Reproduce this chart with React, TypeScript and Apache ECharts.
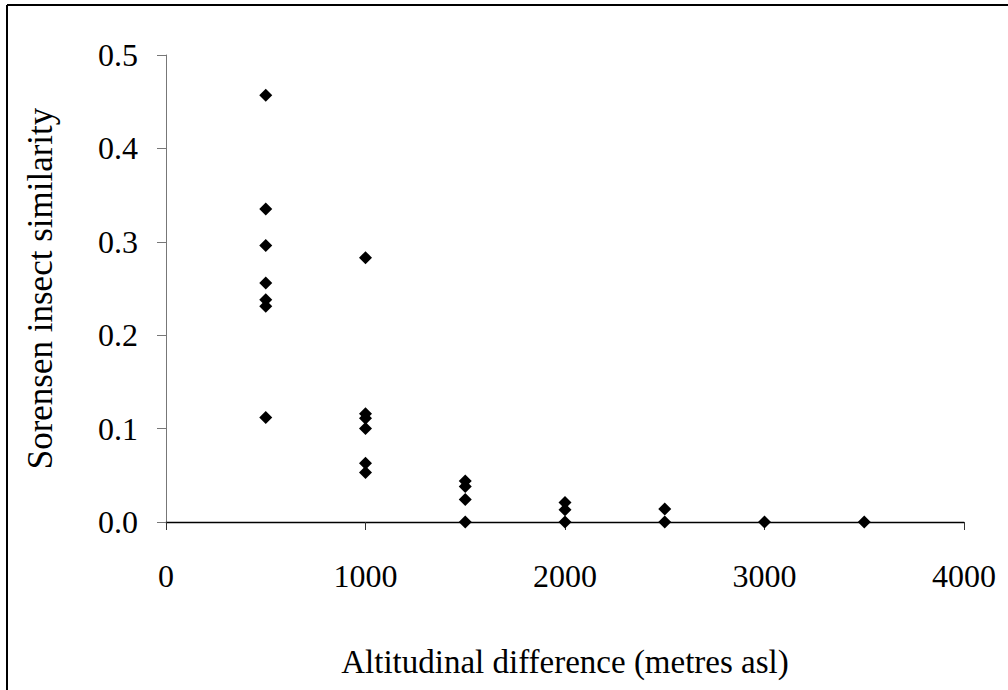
import React, { useEffect, useRef } from "react";
import * as echarts from "echarts";

const xTicks = [0, 1000, 2000, 3000, 4000];
const altitudeDiff = [
  500, 500, 500, 500, 500, 500, 500,
  1000, 1000, 1000, 1000, 1000, 1000,
  1500, 1500, 1500, 1500,
  2000, 2000, 2000,
  2500, 2500,
  3000,
  3500,
];
const similarity = [
  0.457, 0.335, 0.296, 0.256, 0.238, 0.231, 0.112,
  0.283, 0.116, 0.111, 0.1, 0.063, 0.053,
  0.044, 0.038, 0.024, 0.0,
  0.021, 0.013, 0.0,
  0.014, 0.0,
  0.0,
  0.0,
];
const xTitle = "Altitudinal difference (metres asl)";
const yTitle = "Sorensen insect similarity";

const FONT = "'Liberation Serif', 'Times New Roman', serif";

export default function App() {
  const ref = useRef<HTMLDivElement>(null);
  useEffect(() => {
    if (!ref.current) return;
    const chart = echarts.init(ref.current, undefined, { renderer: "svg" });
    const points = altitudeDiff.map((x, i) => [x, similarity[i]]);
    chart.setOption({
      animation: false,
      backgroundColor: "#ffffff",
      textStyle: { fontFamily: FONT },
      grid: { left: 166, right: 44, top: 55, bottom: 168, containLabel: false },
      xAxis: {
        type: "value",
        min: xTicks[0],
        max: xTicks[xTicks.length - 1],
        interval: 1000,
        name: xTitle,
        nameLocation: "middle",
        nameGap: 123,
        nameTextStyle: { fontSize: 33, color: "#000", fontFamily: FONT },
        axisLine: { show: true, onZero: false, lineStyle: { color: "#000", width: 1.3 } },
        axisTick: { show: true, inside: false, length: 8, lineStyle: { color: "#333" } },
        axisLabel: {
          fontSize: 32,
          color: "#000",
          margin: 38,
          fontFamily: FONT,
          formatter: (v: number) => String(v),
        },
        splitLine: { show: false },
      },
      yAxis: {
        type: "value",
        min: 0,
        max: 0.5,
        interval: 0.1,
        name: yTitle,
        nameLocation: "middle",
        nameGap: 108,
        nameTextStyle: { fontSize: 35, color: "#000", fontFamily: FONT },
        axisLine: { show: true, lineStyle: { color: "#777", width: 1 } },
        axisTick: { show: true, inside: false, length: 9, lineStyle: { color: "#777" } },
        axisLabel: {
          fontSize: 32,
          color: "#000",
          margin: 28,
          fontFamily: FONT,
          padding: [6, 0, 0, 0],
          formatter: (v: number) => v.toFixed(1),
        },
        splitLine: { show: false },
      },
      series: [
        {
          type: "scatter",
          data: points,
          symbol: "diamond",
          symbolSize: [13, 13],
          itemStyle: { color: "#000", opacity: 1 },
          z: 5,
        },
      ],
      graphic: [
        {
          type: "line",
          shape: { x1: 7, y1: 5, x2: 1008, y2: 5 },
          style: { stroke: "#000", lineWidth: 2 },
        },
        {
          type: "line",
          shape: { x1: 7, y1: 5, x2: 7, y2: 690 },
          style: { stroke: "#000", lineWidth: 2 },
        },
      ],
    });
    return () => chart.dispose();
  }, []);
  return (
    <div
      ref={ref}
      style={{ position: "fixed", left: 0, top: 0, width: 1008, height: 690, background: "#fff" }}
    />
  );
}
